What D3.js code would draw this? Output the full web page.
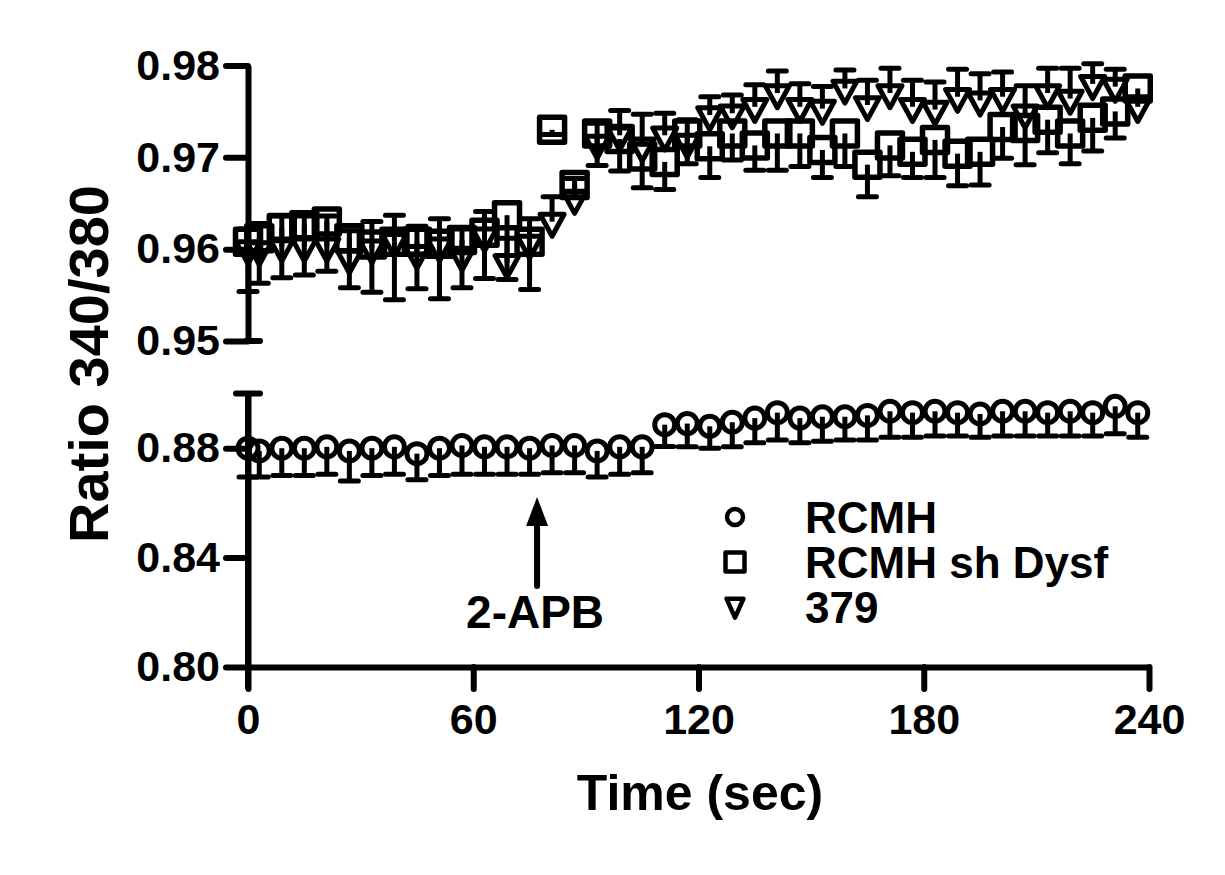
<!DOCTYPE html>
<html lang="en">
<head>
    <meta charset="UTF-8">
    <title>Ratio 340/380</title>
    <style>
        body { margin: 0; background: #fff; }
        text { font-family: "Liberation Sans", Arial, sans-serif; font-weight: bold; fill: #000; }
    </style>
</head>
<script src="https://cdn.jsdelivr.net/npm/d3@7"></script>
<body>
</body>
<script>
    // sample times (sec)
    var times = [0, 3, 9, 15, 21, 27, 33, 39, 45, 51, 57, 63, 69, 75, 81, 87, 93, 99, 105, 111,
        117, 123, 129, 135, 141, 147, 153, 159, 165, 171, 177, 183, 189, 195, 201, 207, 213, 219, 225, 231, 237]

    // RCMH (circles, lower panel), SEM drawn below
    var rcmh = [0.8800, 0.8790, 0.8800, 0.8800, 0.8805, 0.8790, 0.8800, 0.8805, 0.8780, 0.8800,
        0.8810, 0.8805, 0.8805, 0.8800, 0.8810, 0.8810, 0.8790, 0.8805, 0.8805, 0.8886,
        0.8890, 0.8880, 0.8895, 0.8910, 0.8930, 0.8910, 0.8915, 0.8915, 0.8920, 0.8935,
        0.8930, 0.8935, 0.8930, 0.8925, 0.8935, 0.8935, 0.8930, 0.8935, 0.8930, 0.8953, 0.8930]
    var rcmhErr = [0.0105, 0.0095, 0.0100, 0.0100, 0.0100, 0.0110, 0.0100, 0.0100, 0.0095, 0.0100,
        0.0105, 0.0100, 0.0100, 0.0095, 0.0100, 0.0100, 0.0095, 0.0100, 0.0095, 0.0080,
        0.0085, 0.0080, 0.0090, 0.0090, 0.0100, 0.0090, 0.0090, 0.0085, 0.0090, 0.0095,
        0.0090, 0.0090, 0.0085, 0.0085, 0.0090, 0.0090, 0.0085, 0.0090, 0.0085, 0.0100, 0.0090]

    // RCMH sh Dysf (squares, upper panel), SEM drawn below
    var shDysf = [0.9608, 0.9612, 0.9623, 0.9626, 0.9630, 0.9612, 0.9605, 0.9608, 0.9608, 0.9606,
        0.9610, 0.9618, 0.9637, 0.9608, 0.9730, 0.9670, 0.9726, 0.9720, 0.9701, 0.9695,
        0.9726, 0.9712, 0.9726, 0.9713, 0.9726, 0.9726, 0.9708, 0.9726, 0.9692, 0.9713,
        0.9706, 0.9719, 0.9704, 0.9706, 0.9733, 0.9732, 0.9741, 0.9726, 0.9743, 0.9750, 0.9775]
    var shDysfErr = [0.0054, 0.0049, 0.0054, 0.0054, 0.0054, 0.0054, 0.0052, 0.0063, 0.0051, 0.0060,
        0.0052, 0.0050, 0.0070, 0.0052, 0.0005, 0.0008, 0.0035, 0.0035, 0.0034, 0.0030,
        0.0033, 0.0034, 0.0029, 0.0027, 0.0040, 0.0036, 0.0030, 0.0036, 0.0035, 0.0033,
        0.0028, 0.0041, 0.0035, 0.0036, 0.0034, 0.0040, 0.0036, 0.0033, 0.0036, 0.0029, 0.0011]

    // 379 (triangles, upper panel), SEM drawn above
    var c379 = [0.9600, 0.9599, 0.9603, 0.9603, 0.9603, 0.9590, 0.9601, 0.9608, 0.9595, 0.9603,
        0.9593, 0.9614, 0.9585, 0.9606, 0.9630, 0.9655, 0.9715, 0.9724, 0.9712, 0.9724,
        0.9716, 0.9746, 0.9748, 0.9755, 0.9770, 0.9755, 0.9753, 0.9775, 0.9757, 0.9770,
        0.9755, 0.9752, 0.9766, 0.9762, 0.9766, 0.9748, 0.9770, 0.9764, 0.9780, 0.9777, 0.9755]
    var c379Err = [0.0022, 0.0029, 0.0033, 0.0033, 0.0033, 0.0030, 0.0029, 0.0029, 0.0030, 0.0030,
        0.0029, 0.0027, 0.0027, 0.0027, 0.0027, 0.0022, 0.0022, 0.0027, 0.0035, 0.0024,
        0.0025, 0.0020, 0.0020, 0.0024, 0.0024, 0.0025, 0.0024, 0.0020, 0.0027, 0.0027,
        0.0029, 0.0030, 0.0030, 0.0029, 0.0027, 0.0030, 0.0027, 0.0033, 0.0022, 0.0019, 0.0011]

    var xTicks = [0, 60, 120, 180, 240]
    var upperTicks = [0.95, 0.96, 0.97, 0.98]
    var lowerTicks = [0.80, 0.84, 0.88]
    var legendNames = ['RCMH', 'RCMH sh Dysf', '379']

    var width = 1225
        height = 875
        axisW = 6
        tickLen = 22
        svg = d3.select('body')
            .append('svg')
            .attr('width', width)
            .attr('height', height)

    var x = d3.scaleLinear().domain([0, 240]).range([248, 1149])
        yUp = d3.scaleLinear().domain([0.95, 0.98]).range([341, 65.5])
        yLow = d3.scaleLinear().domain([0.80, 0.90]).range([667, 393.5])

    function styleAxis(g) {
        g.select('.domain').attr('stroke', '#000').attr('stroke-width', axisW)
        g.selectAll('.tick line').attr('stroke', '#000').attr('stroke-width', axisW).attr('stroke-linecap', 'round')
        g.selectAll('.tick text')
            .attr('fill', '#000')
            .style('font-size', '43px')
            .style('font-weight', 'bold')
            .style('font-family', '"Liberation Sans", Arial, sans-serif')
    }

    // upper y axis segment
    svg.append('g')
        .attr('transform', 'translate(' + x(0) + ',0)')
        .call(d3.axisLeft(yUp).tickValues(upperTicks).tickFormat(d3.format('.2f'))
            .tickSize(tickLen).tickSizeOuter(0).tickPadding(6))
        .call(styleAxis)

    // lower y axis segment (runs down past the x axis)
    svg.append('g')
        .attr('transform', 'translate(' + x(0) + ',0)')
        .call(d3.axisLeft(yLow).tickValues(lowerTicks).tickFormat(d3.format('.2f'))
            .tickSize(tickLen).tickSizeOuter(0).tickPadding(6))
        .call(styleAxis)

    // x axis
    svg.append('g')
        .attr('transform', 'translate(0,' + yLow(0.80) + ')')
        .call(d3.axisBottom(x).tickValues(xTicks).tickSize(tickLen).tickSizeOuter(0).tickPadding(14))
        .call(styleAxis)

    // break caps on the y axis
    svg.append('line')
        .attr('x1', x(0) - 2).attr('x2', x(0) + 12)
        .attr('y1', yUp(0.95)).attr('y2', yUp(0.95))
        .attr('stroke', '#000').attr('stroke-width', axisW).attr('stroke-linecap', 'round')
    svg.append('line')
        .attr('x1', x(0) - 12).attr('x2', x(0) + 12)
        .attr('y1', yLow(0.90)).attr('y2', yLow(0.90))
        .attr('stroke', '#000').attr('stroke-width', axisW).attr('stroke-linecap', 'round')
    svg.append('line')
        .attr('x1', x(0)).attr('x2', x(0))
        .attr('y1', yLow(0.90)).attr('y2', yLow(0.80) + tickLen)
        .attr('stroke', '#000').attr('stroke-width', axisW)

    // axis titles
    svg.append('text')
        .attr('x', 700)
        .attr('y', 810)
        .attr('text-anchor', 'middle')
        .style('font-size', '50px')
        .text('Time (sec)')

    svg.append('text')
        .attr('transform', 'translate(108,364) rotate(-90)')
        .attr('text-anchor', 'middle')
        .style('font-size', '56px')
        .text('Ratio 340/380')

    // marker shapes
    var circleSym = d3.symbol().type(d3.symbolCircle).size(Math.PI * 10 * 10)
        squareSym = function (s) { return 'M' + (-s / 2) + ',' + (-s / 2) + 'h' + s + 'v' + s + 'h' + (-s) + 'Z' }
        triSym = function (w, h) { return 'M' + (-w / 2) + ',' + (-h / 3) + 'L' + (w / 2) + ',' + (-h / 3) + 'L0,' + (2 * h / 3) + 'Z' }

    var series = [
        { name: legendNames[0], vals: rcmh, errs: rcmhErr, y: yLow, dir: -1, path: circleSym(), sw: 5 },
        { name: legendNames[1], vals: shDysf, errs: shDysfErr, y: yUp, dir: -1, path: squareSym(25), sw: 5.5 },
        { name: legendNames[2], vals: c379, errs: c379Err, y: yUp, dir: 1, path: triSym(24, 22), sw: 5 }
    ]

    series.forEach(function (s) {
        var pts = times.map(function (t, i) { return { t: t, v: s.vals[i], e: s.errs[i] } })
        var g = svg.append('g')

        // one-sided error bars
        var bars = g.selectAll('g.bar')
            .data(pts)
            .enter()
            .append('g')
            .attr('class', 'bar')
        bars.append('line')
            .attr('x1', d => x(d.t)).attr('x2', d => x(d.t))
            .attr('y1', d => s.y(d.v))
            .attr('y2', d => s.y(d.v + s.dir * d.e))
            .attr('stroke', '#000').attr('stroke-width', 5)
        bars.append('line')
            .attr('x1', d => x(d.t) - 9).attr('x2', d => x(d.t) + 9)
            .attr('y1', d => s.y(d.v + s.dir * d.e))
            .attr('y2', d => s.y(d.v + s.dir * d.e))
            .attr('stroke', '#000').attr('stroke-width', 5).attr('stroke-linecap', 'round')

        // hollow markers
        g.selectAll('path.mark')
            .data(pts)
            .enter()
            .append('path')
            .attr('class', 'mark')
            .attr('d', s.path)
            .attr('transform', d => 'translate(' + x(d.t) + ',' + s.y(d.v) + ')')
            .attr('fill', 'none')
            .attr('stroke', '#000')
            .attr('stroke-width', s.sw)
            .attr('stroke-linejoin', 'round')
    })

    // legend
    var legendPaths = [circleSym.size(Math.PI * 8 * 8)(), squareSym(19), triSym(17, 19)]
    legendNames.forEach(function (n, i) {
        var ly = 517 + i * 45
        svg.append('path')
            .attr('d', legendPaths[i])
            .attr('transform', 'translate(735,' + (i == 2 ? ly - 2 : ly) + ')')
            .attr('fill', 'none')
            .attr('stroke', '#000')
            .attr('stroke-width', 4.5)
            .attr('stroke-linejoin', 'round')
        svg.append('text')
            .attr('x', 805)
            .attr('y', ly)
            .attr('dy', '0.36em')
            .style('font-size', '44px')
            .text(n)
    })

    // 2-APB arrow
    svg.append('line')
        .attr('x1', x(77)).attr('x2', x(77))
        .attr('y1', 586).attr('y2', 518)
        .attr('stroke', '#000').attr('stroke-width', 6).attr('stroke-linecap', 'round')
    svg.append('path')
        .attr('d', 'M' + x(77) + ',497L' + (x(77) + 11) + ',526L' + (x(77) - 11) + ',526Z')
        .attr('fill', '#000')
    svg.append('text')
        .attr('x', x(77) - 2)
        .attr('y', 628)
        .attr('text-anchor', 'middle')
        .style('font-size', '46px')
        .text('2-APB')
</script>
</html>
